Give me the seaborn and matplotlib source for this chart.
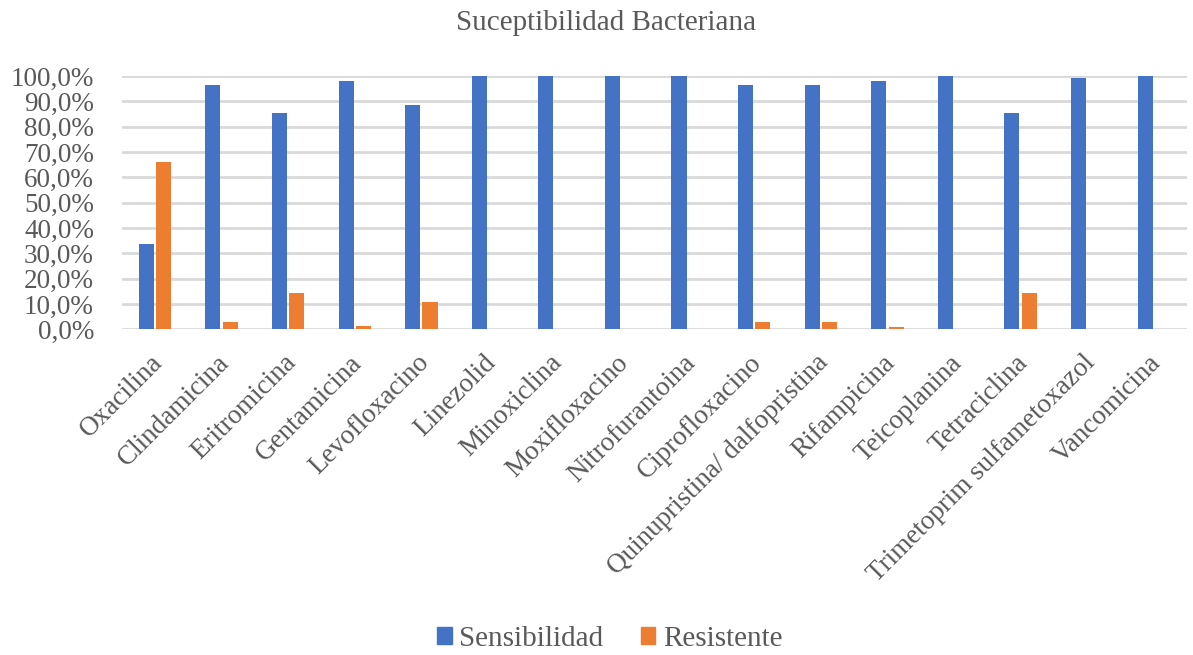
import matplotlib
matplotlib.use("Agg")
import matplotlib.pyplot as plt
import matplotlib.transforms as mtransforms
import seaborn as sns
import pandas as pd
from matplotlib.ticker import FuncFormatter, MultipleLocator

antibioticos = [
    "Oxacilina", "Clindamicina", "Eritromicina", "Gentamicina", "Levofloxacino",
    "Linezolid", "Minoxiclina", "Moxifloxacino", "Nitrofurantoina", "Ciprofloxacino",
    "Quinupristina/ dalfopristina", "Rifampicina", "Teicoplanina", "Tetraciclina",
    "Trimetoprim sulfametoxazol", "Vancomicina",
]
sensibilidad = [33.8, 96.3, 85.3, 98.1, 88.6, 100.0, 100.0, 100.0, 100.0, 96.3,
                96.3, 98.1, 100.0, 85.3, 99.1, 100.0]
resistente = [66.2, 2.9, 14.5, 1.3, 11.0, 0.0, 0.0, 0.0, 0.0, 2.9,
              2.9, 1.0, 0.0, 14.5, 0.3, 0.0]
series = ["Sensibilidad", "Resistente"]
colores = ["#4472C4", "#ED7D31"]

df = pd.DataFrame({
    "Antibiótico": antibioticos * 2,
    "Serie": [series[0]] * len(antibioticos) + [series[1]] * len(antibioticos),
    "Valor": sensibilidad + resistente,
})

sns.set_theme(style="white")
plt.rcParams["font.family"] = ["Liberation Serif", "DejaVu Serif"]
texto = "#595959"

fig = plt.figure(figsize=(11.93, 6.55), dpi=100)
ax = fig.add_axes([0.102, 0.497, 0.893, 0.387])

sns.barplot(data=df, x="Antibiótico", y="Valor", hue="Serie", hue_order=series,
            palette=colores, width=0.52, gap=0.13, saturation=1, linewidth=0,
            ax=ax, legend=True, zorder=3)

ax.set_ylim(0, 100)
ax.set_xlim(-0.5, len(antibioticos) - 0.5)
ax.yaxis.set_major_locator(MultipleLocator(10))
ax.yaxis.set_major_formatter(FuncFormatter(lambda v, p: f"{v:.1f}%".replace(".", ",")))
ax.grid(axis="y", color="#d9d9d9", linewidth=2, zorder=0)
ax.set_axisbelow(True)
for s in ax.spines.values():
    s.set_visible(False)
ax.set_xlabel("")
ax.set_ylabel("")
ax.tick_params(axis="y", labelsize=19.5, colors=texto, length=0, pad=20)
ax.tick_params(axis="x", labelsize=19.5, colors=texto, length=0, pad=15)

# nudge the rotated category labels slightly to the left
shift = mtransforms.ScaledTranslation(-5 / 100, 0, fig.dpi_scale_trans)
for lab in ax.get_xticklabels():
    lab.set_rotation(45)
    lab.set_ha("right")
    lab.set_rotation_mode("anchor")
    lab.set_transform(lab.get_transform() + shift)

ax.legend_.remove()
handles = [plt.Rectangle((0, 0), 1, 1, color=c) for c in colores]
fig.legend(handles, series, loc="center", bbox_to_anchor=(0.511, 0.025), ncol=2,
           frameon=False, fontsize=21, labelcolor=texto, handlelength=0.5,
           handleheight=0.5, handletextpad=0.25, columnspacing=1.3)

fig.text(0.508, 0.965, "Suceptibilidad Bacteriana", ha="center", va="center",
         fontsize=21, color=texto)

fig.savefig("out.png", dpi=100)
